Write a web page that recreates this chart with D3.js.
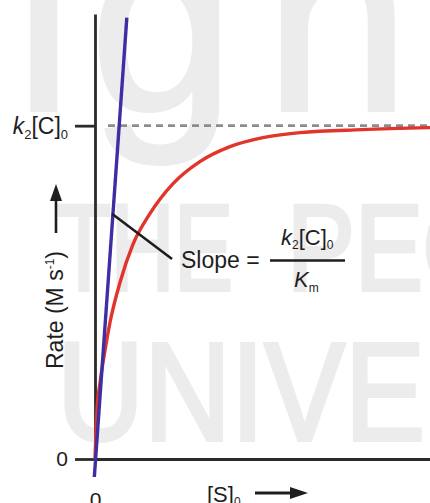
<!DOCTYPE html>
<html>
<head>
<meta charset="utf-8">
<script src="https://cdn.jsdelivr.net/npm/d3@7"></script>
<style>
    html, body { margin: 0; padding: 0; background: #fff; }
    svg { display: block; font-family: "Liberation Sans", Arial, sans-serif; }
    .axis path, .axis line { stroke: #2b2b2b; stroke-width: 2.8; }
    .axis text { font-family: "Liberation Sans", Arial, sans-serif; fill: #1e1e1e; }
</style>
</head>
<body>
<svg id="chart" width="430" height="503"></svg>
<script>
// substrate concentration [S]0 (arbitrary units) and rate (fraction of k2[C]0)
const sConc = [0, 0.06, 0.15, 0.30, 0.45, 0.75, 1.13, 1.64, 2.33, 3.13, 4.03, 5.01, 6.12, 7.97, 10];
const rate = [0, 0.147, 0.228, 0.327, 0.411, 0.531, 0.643, 0.736, 0.826, 0.892, 0.937, 0.964, 0.979, 0.988, 0.994];

// initial slope line
const tangentS = [-0.02, 0.95];
const tangentRate = [-0.054, 1.324];

// tick values on the axes
const yTicks = [0, 1];
const xTicks = [0];
const vmax = 1;

let svg = d3.select("#chart");
let width = 430, height = 503;

let x = d3.scaleLinear().domain([0, 10]).range([95, 430]);
let y = d3.scaleLinear().domain([0, 1.335]).range([459, 14]);

// watermark
let wm = svg.append("g").attr("fill", "#ececec").attr("stroke", "#ececec").attr("stroke-width", 4)
    .attr("font-family", "Liberation Sans, Arial, sans-serif");
wm.append("text").attr("x", 15).attr("y", 110).attr("font-size", 260).text("i");
wm.append("text").attr("x", 90).attr("y", 110).attr("font-size", 260).text("g");
wm.append("text").attr("x", 265).attr("y", 110).attr("font-size", 260).text("h");
wm.append("text").attr("x", 57).attr("y", 290).attr("font-size", 123)
    .attr("textLength", 176).attr("lengthAdjust", "spacingAndGlyphs").text("THE");
wm.append("text").attr("x", 287).attr("y", 290).attr("font-size", 123)
    .attr("textLength", 215).attr("lengthAdjust", "spacingAndGlyphs").text("PEO");
wm.append("text").attr("x", 57).attr("y", 440).attr("font-size", 140)
    .attr("textLength", 455).attr("lengthAdjust", "spacingAndGlyphs").text("UNIVER");

// dashed asymptote
svg.append("line")
    .attr("x1", x(0) + 13).attr("x2", x(10))
    .attr("y1", y(vmax)).attr("y2", y(vmax))
    .attr("stroke", "#8c8c8c").attr("stroke-width", 2.6)
    .attr("stroke-dasharray", "7,5");

// axes
let yAxis = svg.append("g")
    .attr("class", "axis")
    .attr("transform", "translate(" + x(0) + ",0)")
    .call(d3.axisLeft(y).tickValues(yTicks).tickSize(20).tickSizeOuter(0).tickPadding(7)
        .tickFormat(d => d === 0 ? "0" : ""));
yAxis.selectAll("text").attr("font-size", 21);

let kLabel = yAxis.selectAll(".tick").filter(d => d === 1).select("text")
    .attr("font-size", 23);
kLabel.append("tspan").attr("font-style", "italic").text("k");
kLabel.append("tspan").attr("font-size", 13).attr("dy", 5).text("2");
kLabel.append("tspan").attr("dy", -5).text("[C]");
kLabel.append("tspan").attr("font-size", 13).attr("dy", 5).text("0");

let xAxis = svg.append("g")
    .attr("class", "axis")
    .attr("transform", "translate(0," + y(0) + ")")
    .call(d3.axisBottom(x).tickValues(xTicks).tickSize(0).tickSizeOuter(0).tickPadding(33)
        .tickFormat(d3.format("d")));
xAxis.selectAll("text").attr("font-size", 21);

// curves
let line = d3.line()
    .x((d, i) => x(sConc[i]))
    .y(d => y(d))
    .curve(d3.curveMonotoneX);

svg.append("path")
    .datum(rate)
    .attr("d", line)
    .attr("fill", "none")
    .attr("stroke", "#e1352c")
    .attr("stroke-width", 3.4);

svg.append("path")
    .datum(tangentRate)
    .attr("d", d3.line().x((d, i) => x(tangentS[i])).y(d => y(d)))
    .attr("fill", "none")
    .attr("stroke", "#3d2ea3")
    .attr("stroke-width", 3.4);

// annotation
let ax = 0.507, ay = 0.736;
svg.append("line")
    .attr("x1", x(ax)).attr("y1", y(ay))
    .attr("x2", x(2.3)).attr("y2", y(0.6))
    .attr("stroke", "#1e1e1e").attr("stroke-width", 2.6);

let note = svg.append("g").attr("fill", "#1e1e1e");
note.append("text").attr("x", 181).attr("y", 268).attr("font-size", 23).text("Slope =");
note.append("line")
    .attr("x1", 270).attr("x2", 345).attr("y1", 260.5).attr("y2", 260.5)
    .attr("stroke", "#1e1e1e").attr("stroke-width", 2.4);
let num = note.append("text").attr("x", 281).attr("y", 245).attr("font-size", 22);
num.append("tspan").attr("font-style", "italic").text("k");
num.append("tspan").attr("font-size", 12).attr("dy", 4).text("2");
num.append("tspan").attr("dy", -4).text("[C]");
num.append("tspan").attr("font-size", 12).attr("dy", 4).text("0");
let den = note.append("text").attr("x", 294).attr("y", 287).attr("font-size", 22);
den.append("tspan").attr("font-style", "italic").text("K");
den.append("tspan").attr("font-size", 12).attr("dy", 5).text("m");

// axis titles with arrows
let yTitle = svg.append("text")
    .attr("transform", "translate(63,310) rotate(-90)")
    .attr("text-anchor", "middle")
    .attr("font-size", 23)
    .attr("fill", "#1e1e1e");
yTitle.append("tspan").text("Rate (M s");
yTitle.append("tspan").attr("font-size", 12).attr("dy", -9).text("-1");
yTitle.append("tspan").attr("dy", 9).text(")");

svg.append("line").attr("x1", 56).attr("x2", 56).attr("y1", 233).attr("y2", 196)
    .attr("stroke", "#1e1e1e").attr("stroke-width", 2.6);
svg.append("path").attr("d", "M56,184 L50,201 L62,201 Z").attr("fill", "#1e1e1e");

let xTitle = svg.append("text").attr("x", 207).attr("y", 502).attr("font-size", 22).attr("fill", "#1e1e1e");
xTitle.append("tspan").text("[S]");
xTitle.append("tspan").attr("font-size", 12).attr("dy", 4).text("0");

svg.append("line").attr("x1", 255).attr("x2", 294).attr("y1", 493).attr("y2", 493)
    .attr("stroke", "#1e1e1e").attr("stroke-width", 2.8);
svg.append("path").attr("d", "M308,493 L290,487 L290,499 Z").attr("fill", "#1e1e1e");
</script>
</body>
</html>
